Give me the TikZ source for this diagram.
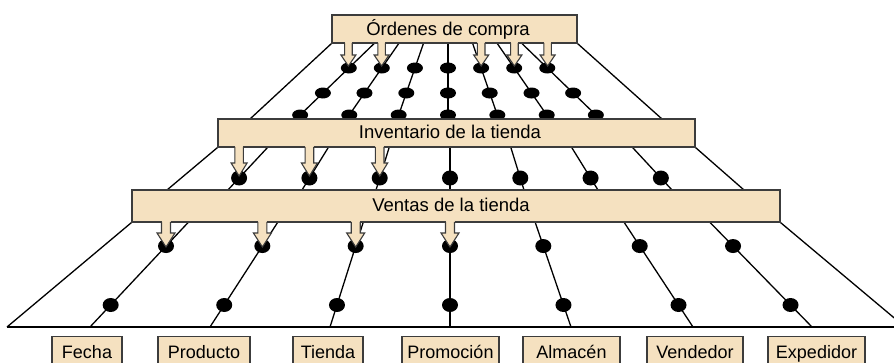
\documentclass[tikz,border=0pt]{standalone}
\usepackage{fontspec}
\setmainfont{Liberation Sans}
\usetikzlibrary{shapes.geometric,calc}
\definecolor{boxfill}{RGB}{245,225,192}
\definecolor{boxline}{RGB}{60,60,60}
\pgfdeclarelayer{lines}
\pgfdeclarelayer{dots}
\pgfsetlayers{lines,dots,main}
% x, top y, tip y, half stem, half head, head length
\newcommand{\blockarrow}[6]{%
  \fill[boxfill] ({#1-#4},{#2-1.2}) rectangle ({#1+#4},{#2+0.5});
  \filldraw[fill=boxfill, draw=boxline, line width=1.1pt, line join=miter]
    ({#1-#4},#2) -- ({#1-#4},{#3-#6}) -- ({#1-#5},{#3-#6}) -- (#1,#3)
    -- ({#1+#5},{#3-#6}) -- ({#1+#4},{#3-#6}) -- ({#1+#4},#2);
}
\tikzset{
  ln/.style={black, line width=1.3pt},
  bigbox/.style={draw=boxline, fill=boxfill, line width=1.3pt, inner sep=0pt},
  txt/.style={font=\fontsize{18.5}{22}\selectfont, inner sep=0pt},
  lbl/.style={draw=boxline, fill=boxfill, line width=1.3pt, inner sep=0pt,
    minimum height=34pt, text height=13pt, text depth=3.5pt,
    font=\fontsize{18}{21}\selectfont, anchor=north},
  dotL/.style={ellipse, fill=black, inner sep=0pt, minimum width=16pt, minimum height=14pt},
  dotM/.style={ellipse, fill=black, inner sep=0pt, minimum width=16pt, minimum height=15pt},
  dotT/.style={ellipse, fill=black, inner sep=0pt, minimum width=16pt, minimum height=11pt},
}
\begin{document}
\begin{tikzpicture}[x=1pt, y=-1pt]
\useasboundingbox (0,0) rectangle (894,363);
\clip (0,0) rectangle (894,363);

% big boxes
\node[bigbox, minimum width=245pt, minimum height=28pt] (ord) at (454.5,29) {};
\node[bigbox, minimum width=477pt, minimum height=28pt] (inv) at (456.5,133) {};
\node[bigbox, minimum width=648pt, minimum height=32pt] (ven) at (456,206) {};

\begin{pgfonlayer}{lines}
  % bottom section
  \coordinate (baseL) at (7,327);
  \coordinate (baseR) at (905,327);
  \draw[ln] (baseL) -- (baseR);
  \draw[ln] (baseL) -- (ven.south west);
  \draw[ln] (ven.south east) -- (baseR);
  \foreach \i/\xb/\xt in {1/90/188.6,2/210/277.9,3/330/363.3,4/450/450,5/571/535.1,6/693/623.9,7/812/709.6}{
    \coordinate (bb\i) at (\xb,327);
    \coordinate (bt\i) at (\xt,222);
    \draw[ln] (bb\i) -- (bt\i);
  }
  % middle section
  \coordinate (mL) at (167,190);
  \coordinate (mR) at (744,190);
  \draw[ln] (mL) -- (inv.south west);
  \draw[ln] (inv.south east) -- (mR);
  \foreach \i/\xa/\xb in {1/268/227.9,2/328.6/302,3/389.3/376,4/450/450,5/510.7/524,6/571.4/598,7/632.1/672}{
    \coordinate (mt\i) at (\xa,147);
    \coordinate (mb\i) at (\xb,190);
    \draw[ln] (mt\i) -- (mb\i);
  }
  % top section
  \coordinate (tL) at (250,119);
  \coordinate (tR) at (662,119);
  \draw[ln] (tL) -- (ord.south west);
  \draw[ln] (ord.south east) -- (tR);
  \foreach \i/\xa/\xb in {1/374.7/296,2/399.1/346.5,3/423.6/397.3,4/448/448,5/472.5/498.7,6/496.9/549.5,7/521.4/600}{
    \coordinate (tt\i) at (\xa,43);
    \coordinate (tb\i) at (\xb,119);
    \draw[ln] (tt\i) -- (tb\i);
  }
\end{pgfonlayer}

\begin{pgfonlayer}{dots}
  \foreach \i in {1,...,7}{
    \node[dotL] (bd\i) at ($(bb\i)!0.2095!(bt\i)$) {};
    \node[dotL] (bu\i) at ($(bb\i)!0.771!(bt\i)$) {};
    \node[dotM] (md\i) at ($(mb\i)!0.279!(mt\i)$) {};
    \node[dotT] (ta\i) at ($(tb\i)!0.0526!(tt\i)$) {};
    \node[dotT] (tm\i) at ($(tb\i)!0.342!(tt\i)$) {};
    \node[dotT] (tu\i) at ($(tb\i)!0.671!(tt\i)$) {};
  }
\end{pgfonlayer}

% block arrows
\foreach \x in {348.4,381.6,481.2,514.4,547.6}{\blockarrow{\x}{43}{66}{3.8}{7.5}{11}}
\foreach \x in {239.1,309.4,379.7}{\blockarrow{\x}{147}{176}{4.3}{8}{13}}
\foreach \x in {166,262.4,355.7,450}{\blockarrow{\x}{222}{247}{4.5}{9}{14}}

% titles
\node[txt, anchor=base] (tord) at (448,35.5) {Órdenes de compra};
\node[txt, anchor=base] (tinv) at (450,138.5) {Inventario de la tienda};
\node[txt, anchor=base] (tven) at (451,211.5) {Ventas de la tienda};

% dimension labels
\node[lbl, minimum width=70pt] (fecha) at (87,336) {Fecha};
\node[lbl, minimum width=92pt] (producto) at (204,336) {Producto};
\node[lbl, minimum width=70pt] (tienda) at (328,336) {Tienda};
\node[lbl, minimum width=97pt] (promocion) at (450.5,336) {Promoción};
\node[lbl, minimum width=97pt] (almacen) at (571.5,336) {Almacén};
\node[lbl, minimum width=96pt] (vendedor) at (695,336) {Vendedor};
\node[lbl, minimum width=97pt] (expedidor) at (816.5,336) {Expedidor};
\end{tikzpicture}
\end{document}
